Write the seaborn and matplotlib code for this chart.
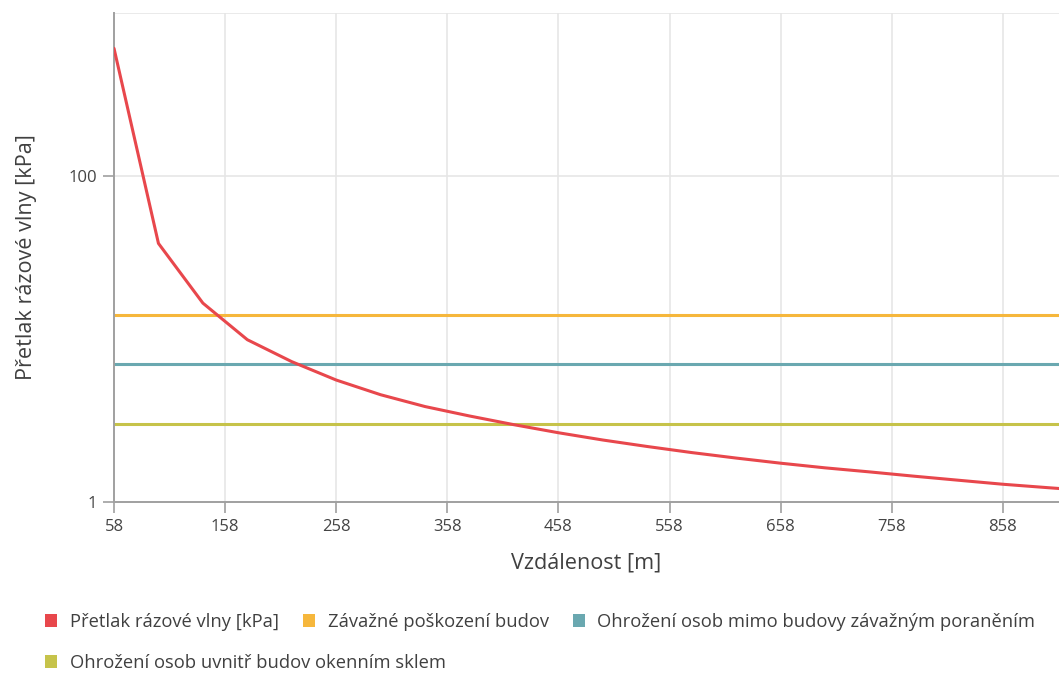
import matplotlib
matplotlib.use("Agg")
import matplotlib.pyplot as plt
import seaborn as sns
import pandas as pd
from matplotlib.patches import Patch

# Data
distance = [58, 98, 138, 178, 218, 258, 298, 338, 378, 418, 458, 498, 538, 578,
            618, 658, 698, 738, 778, 818, 858, 898, 938]
overpressure = [607, 38.6, 16.6, 9.9, 7.26, 5.6, 4.55, 3.85, 3.37, 2.98, 2.66, 2.40,
                2.19, 2.01, 1.86, 1.73, 1.62, 1.53, 1.44, 1.36, 1.285, 1.225, 1.17]
thresholds = [14, 7, 3]
threshold_labels = ["Závažné poškození budov",
                    "Ohrožení osob mimo budovy závažným poraněním",
                    "Ohrožení osob uvnitř budov okenním sklem"]
series_label = "Přetlak rázové vlny [kPa]"
x_ticks = [58, 158, 258, 358, 458, 558, 658, 758, 858]
y_ticks = [1, 100]

colors = ["#e8474c", "#f6b73c", "#6aa8b0", "#c6c34a"]

sns.set_theme(style="white")
plt.rcParams['font.family'] = ['Open Sans', 'DejaVu Sans']

fig = plt.figure(figsize=(10.59, 6.73), dpi=100)
ax = fig.add_axes([114/1059, (673-502)/673, 1 - 114/1059, (502-13)/673])

df = pd.DataFrame({"d": distance, "p": overpressure})
grid_c = "#e6e6e6"

ax.set_yscale("log")
ax.set_xlim(58, 908.5)
ax.set_ylim(1, 1000)

for xt in x_ticks[1:]:
    ax.axvline(xt, color=grid_c, lw=1.2, zorder=0)
for yt in [100, 1000]:
    ax.axhline(yt, color=grid_c, lw=1.2, zorder=0)

for t, c in zip(thresholds, colors[1:]):
    ax.axhline(t, color=c, lw=2.2, zorder=2)

sns.lineplot(data=df, x="d", y="p", ax=ax, color=colors[0], lw=2.2, zorder=3)

ax.set_xticks(x_ticks)
ax.set_xticklabels([str(v) for v in x_ticks])
ax.set_yticks(y_ticks)
ax.set_yticklabels([str(v) for v in y_ticks])
ax.minorticks_off()
ax.tick_params(axis="both", which="major", length=8, width=1.2, color="#a0a0a0",
               labelsize=12, labelcolor="#444444", pad=4, bottom=True, left=True)

for s in ["top", "right"]:
    ax.spines[s].set_visible(False)
for s in ["left", "bottom"]:
    ax.spines[s].set_color("#a0a0a0")
    ax.spines[s].set_linewidth(1.4)

ax.set_xlabel("Vzdálenost [m]", fontsize=15.6, color="#404040", labelpad=13)
ax.set_ylabel("Přetlak rázové vlny [kPa]", fontsize=15.6, color="#404040", labelpad=23)

handles = [Patch(facecolor=c, edgecolor="none") for c in colors]
labels = [series_label] + threshold_labels

leg_kw = dict(frameon=False, fontsize=13.2, handlelength=0.66, handleheight=0.66,
              handletextpad=0.7, columnspacing=1.3, labelcolor="#404040",
              borderaxespad=0, borderpad=0)
fig.legend(handles[:3], labels[:3], ncol=3, loc="center left",
           bbox_to_anchor=(45/1059, 1 - 622/673), **leg_kw)
fig.legend(handles[3:], labels[3:], ncol=1, loc="center left",
           bbox_to_anchor=(45/1059, 1 - 663/673), **leg_kw)

fig.savefig("out.png", dpi=100)
